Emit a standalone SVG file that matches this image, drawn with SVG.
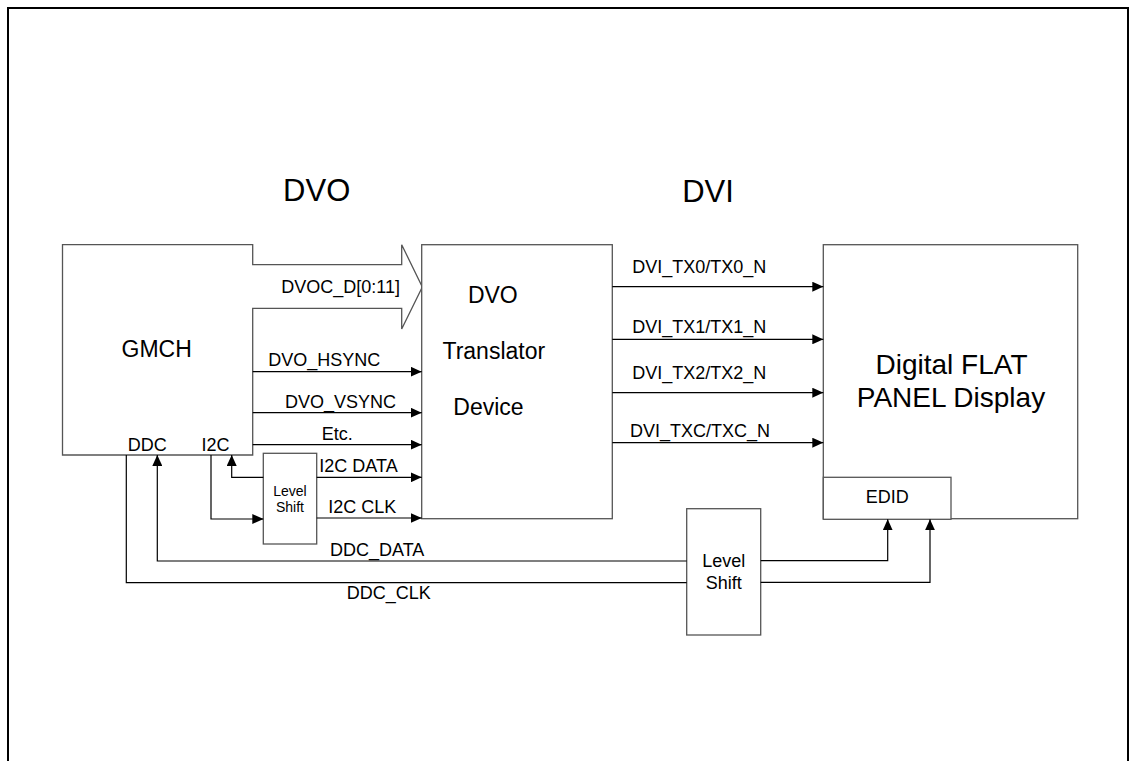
<svg xmlns="http://www.w3.org/2000/svg" width="1136" height="761" viewBox="0 0 1136 761">
<style>
text{font-family:"Liberation Sans",Arial,sans-serif;fill:#000}
.box{fill:#fff;stroke:#555;stroke-width:1.3}
.ln{fill:none;stroke:#000;stroke-width:1.2}
.s18{font-size:18px}
.s23{font-size:23px}
.s28{font-size:28px}
.s31{font-size:31px}
.s14{font-size:14px}
.m{text-anchor:middle}
</style>
<defs>
<marker id="ah" viewBox="0 0 10 10" refX="10" refY="5" markerWidth="11" markerHeight="10" markerUnits="userSpaceOnUse" orient="auto" preserveAspectRatio="none">
<path d="M0,0 L10,5 L0,10 z" fill="#000"/>
</marker>
</defs>
<rect width="1136" height="761" fill="#fff"/>
<path d="M8,770 V8 H1128 V770" fill="none" stroke="#000" stroke-width="2"/>
<g id="titles">
<text class="s31 m" x="316.7" y="200.7">DVO</text>
<text class="s31 m" x="708" y="201.5">DVI</text>
</g>
<g id="gmch">
<path class="box" d="M252.7,264.7 V244.7 H62.5 V455 H252.7 V308.3 H401.7 V329 L422.3,287 L401.7,244.7 V264.7 Z"/>
<text class="s23 m" x="156.7" y="357.3">GMCH</text>
<text class="s18 m" x="147.3" y="450.7">DDC</text>
<text class="s18 m" x="215.5" y="450.7">I2C</text>
<text class="s18" x="400" y="293.3" text-anchor="end">DVOC_D[0:11]</text>
</g>
<g id="dvo">
<rect class="box" x="421.7" y="244.7" width="190.6" height="274"/>
<text class="s23 m" x="492.8" y="303.3">DVO</text>
<text class="s23 m" x="493.8" y="359.3">Translator</text>
<text class="s23 m" x="488.5" y="415">Device</text>
</g>
<g id="levelshift1">
<rect class="box" x="263.3" y="453.3" width="53.4" height="90.7"/>
<text class="s14 m" x="290" y="496">Level</text>
<text class="s14 m" x="290" y="511.7">Shift</text>
</g>
<g id="display">
<rect class="box" x="823.3" y="244.7" width="254.4" height="274"/>
<text class="s28 m" x="951.5" y="374">Digital FLAT</text>
<text class="s28 m" x="951" y="406.7">PANEL Display</text>
</g>
<g id="edid">
<rect class="box" x="823.3" y="477.3" width="127.7" height="42"/>
<text class="s18 m" x="887.3" y="503.3">EDID</text>
</g>
<g id="levelshift2">
<rect class="box" x="686.7" y="508.7" width="74" height="126.3"/>
<text class="s18 m" x="723.7" y="567.3">Level</text>
<text class="s18 m" x="723.7" y="589">Shift</text>
</g>
<g id="connectors">
<path class="ln" d="M252.7,371.7 H421.7" marker-end="url(#ah)"/>
<path class="ln" d="M252.7,412.7 H421.7" marker-end="url(#ah)"/>
<path class="ln" d="M252.7,444.7 H421.7" marker-end="url(#ah)"/>
<path class="ln" d="M316.7,477.3 H421.7" marker-end="url(#ah)"/>
<path class="ln" d="M316.7,518 H421.7" marker-end="url(#ah)"/>
<path class="ln" d="M211,455 V519 H263.3" marker-end="url(#ah)"/>
<path class="ln" d="M263.3,477.3 H231.7 V455" marker-end="url(#ah)"/>
<path class="ln" d="M686.7,561 H157.3 V455" marker-end="url(#ah)"/>
<path class="ln" d="M126.3,455 V582.7 H686.7"/>
<path class="ln" d="M760.7,560.7 H887.7 V519.3" marker-end="url(#ah)"/>
<path class="ln" d="M760.7,582.3 H930 V519.3" marker-end="url(#ah)"/>
<path class="ln" d="M612.3,286.7 H823.3" marker-end="url(#ah)"/>
<path class="ln" d="M612.3,339.3 H823.3" marker-end="url(#ah)"/>
<path class="ln" d="M612.3,392.7 H823.3" marker-end="url(#ah)"/>
<path class="ln" d="M612.3,442.7 H823.3" marker-end="url(#ah)"/>
<text class="s18" x="268.3" y="365.7">DVO_HSYNC</text>
<text class="s18" x="285" y="407.7">DVO_VSYNC</text>
<text class="s18" x="321.7" y="440">Etc.</text>
<text class="s18" x="319.3" y="471.7">I2C DATA</text>
<text class="s18" x="328.3" y="513.3">I2C CLK</text>
<text class="s18" x="330" y="556">DDC_DATA</text>
<text class="s18" x="346.7" y="599.3">DDC_CLK</text>
<text class="s18" x="632.3" y="273.3">DVI_TX0/TX0_N</text>
<text class="s18" x="632.3" y="332.7">DVI_TX1/TX1_N</text>
<text class="s18" x="632.3" y="379.3">DVI_TX2/TX2_N</text>
<text class="s18" x="630" y="436.7">DVI_TXC/TXC_N</text>
</g>
</svg>
